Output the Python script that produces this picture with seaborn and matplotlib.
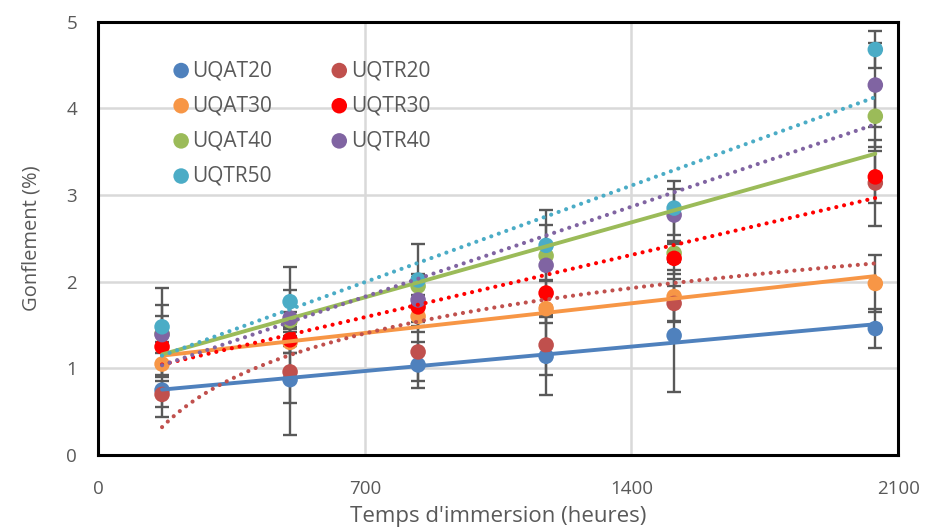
import numpy as np
import pandas as pd
import seaborn as sns
import matplotlib.pyplot as plt

# immersion time (hours)
hours = [168, 504, 840, 1176, 1512, 2040]

# swelling (%) and error bar half-widths per mix
UQAT20 = [0.75, 0.87, 1.04, 1.14, 1.38, 1.46]
UQAT20_err = [0.31, 0.64, 0.27, 0.45, 0.65, 0.23]
UQAT30 = [1.05, 1.30, 1.60, 1.69, 1.83, 1.98]
UQAT30_err = [0.13, 0.12, 0.18, 0.17, 0.30, 0.33]
UQAT40 = [1.40, 1.55, 1.95, 2.30, 2.33, 3.91]
UQAT40_err = [0.10, 0.10, 0.10, 0.10, 0.10, 0.35]
UQTR20 = [0.70, 0.96, 1.19, 1.27, 1.75, 3.14]
UQTR20_err = [0.15, 0.36, 0.34, 0.35, 0.20, 0.50]
UQTR30 = [1.25, 1.33, 1.71, 1.87, 2.27, 3.21]
UQTR30_err = [0.35, 0.15, 0.10, 0.15, 0.18, 0.30]
UQTR40 = [1.39, 1.58, 1.79, 2.19, 2.77, 4.27]
UQTR40_err = [0.34, 0.32, 0.30, 0.47, 0.30, 0.48]
UQTR50 = [1.48, 1.77, 2.02, 2.42, 2.85, 4.68]
UQTR50_err = [0.45, 0.40, 0.42, 0.41, 0.31, 0.21]

series = [
    ("UQAT20", UQAT20, UQAT20_err, "#4F81BD", "linear", "-"),
    ("UQAT30", UQAT30, UQAT30_err, "#F79646", "linear", "-"),
    ("UQAT40", UQAT40, UQAT40_err, "#9BBB59", "linear", "-"),
    ("UQTR20", UQTR20, UQTR20_err, "#C0504D", "log", ":"),
    ("UQTR30", UQTR30, UQTR30_err, "#FF0000", "linear", ":"),
    ("UQTR40", UQTR40, UQTR40_err, "#8064A2", "linear", ":"),
    ("UQTR50", UQTR50, UQTR50_err, "#4BACC6", "linear", ":"),
]
legend_order = ["UQAT20", "UQAT30", "UQAT40", "UQTR50", "UQTR20", "UQTR30", "UQTR40"]

sns.set_theme(style="white")
plt.rcParams['font.family'] = ['Open Sans', 'DejaVu Sans']
grey = "#595959"

fig, ax = plt.subplots(figsize=(9.25, 5.31), dpi=100)
fig.subplots_adjust(left=0.106, right=0.971, bottom=0.143, top=0.959)

# error bars
for name, vals, errs, color, trend, ls in series:
    ax.errorbar(hours, vals, yerr=errs, fmt='none', ecolor=grey, elinewidth=1.7,
                capsize=5, capthick=1.7, zorder=2)

# points
for name, vals, errs, color, trend, ls in series:
    sns.scatterplot(x=hours, y=vals, color=color, s=125, edgecolor='none',
                    label=name, ax=ax, zorder=3)

# trendlines (linear, log for UQTR20)
for name, vals, errs, color, trend, ls in series:
    if ls == ":":
        lkw = dict(color=color, lw=3.0, linestyle=(0, (0.01, 1.9)),
                   dash_capstyle='round', zorder=4)
    else:
        lkw = dict(color=color, lw=2.8, linestyle='-', zorder=4)
    sns.regplot(x=np.array(hours), y=np.array(vals), scatter=False, ci=None,
                logx=(trend == "log"), ax=ax, line_kws=lkw)

ax.set_xlim(0, 2100)
ax.set_ylim(0, 5)
ax.set_xticks([0, 700, 1400, 2100])
ax.set_yticks([0, 1, 2, 3, 4, 5])
ax.grid(True, color='#d9d9d9', lw=1.8)
ax.set_axisbelow(True)
for sp in ax.spines.values():
    sp.set_color('black')
    sp.set_linewidth(2.2)
ax.tick_params(axis='x', length=0, pad=18, labelsize=13.5, labelcolor=grey)
ax.tick_params(axis='y', length=0, pad=15, labelsize=13.5, labelcolor=grey)
ax.set_xlabel("Temps d'immersion (heures)", fontsize=16, color=grey, labelpad=6)
ax.set_ylabel("Gonflement (%)", fontsize=14.5, color=grey, labelpad=18)

handles, labels = ax.get_legend_handles_labels()
hmap = dict(zip(labels, handles))
ax.legend([hmap[n] for n in legend_order], legend_order, ncol=2, loc='upper left',
          bbox_to_anchor=(0.07, 0.955), frameon=False, fontsize=15, labelcolor=grey,
          handlelength=0.8, handletextpad=0.15, columnspacing=2.8, labelspacing=0.68)

fig.savefig("out.png", dpi=100)
